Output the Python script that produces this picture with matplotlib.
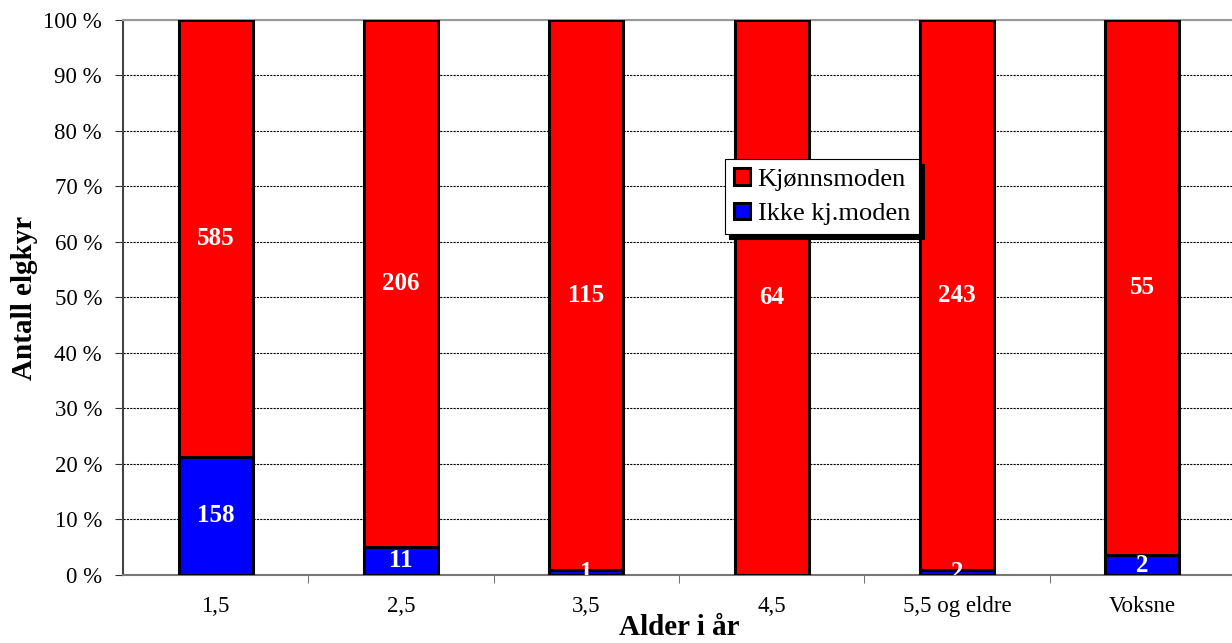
import matplotlib.pyplot as plt
import numpy as np

plt.rcParams['font.family'] = ['Liberation Serif', 'DejaVu Serif']

# Moose cows by age: sexually mature vs. not
ages = ['1,5', '2,5', '3,5', '4,5', '5,5 og eldre', 'Voksne']
kjonnsmoden = [585, 206, 115, 64, 243, 55]
ikke_moden = [158, 11, 1, 0, 2, 2]

mature = np.array(kjonnsmoden, dtype=float)
immature = np.array(ikke_moden, dtype=float)
total = mature + immature
pct_imm = immature / total * 100
pct_mat = mature / total * 100

fig = plt.figure(figsize=(12.32, 6.43), dpi=100)
ax = fig.add_axes([0.0998, 0.1058, 0.9027, 0.8631])

x = np.arange(len(ages))
w = 0.4
b1 = ax.bar(x, pct_imm, w, color='#0000ff', edgecolor='black', linewidth=2.2,
            label='Ikke kj.moden', zorder=3)
b2 = ax.bar(x, pct_mat, w, bottom=pct_imm, color='#ff0000', edgecolor='black',
            linewidth=2.2, label='Kjønnsmoden', zorder=3)

# value labels in the middle of each segment
for i in range(len(ages)):
    if immature[i] > 0:
        ax.text(x[i], pct_imm[i] / 2, f'{ikke_moden[i]}', ha='center', va='center',
                color='white', fontsize=18, fontweight='bold', zorder=4, clip_on=True)
    ax.text(x[i], pct_imm[i] + pct_mat[i] / 2, f'{kjonnsmoden[i]}', ha='center',
            va='center', color='white', fontsize=18, fontweight='bold', zorder=4)

ax.set_xlim(-0.5, 5.5)
ax.set_ylim(0, 100)
ax.set_yticks(np.arange(0, 101, 10))
ax.set_yticklabels([f'{v} %' for v in range(0, 101, 10)], fontsize=16.5)
ax.yaxis.grid(True, linestyle=(0, (2, 1)), color='black', linewidth=0.8, zorder=0)

ax.set_xticks(x)
ax.set_xticklabels(ages, fontsize=16.5)
ax.tick_params(axis='x', length=0, pad=15)
ax.set_xticks(np.arange(0.5, 5.5, 1), minor=True)
ax.tick_params(axis='x', which='minor', length=6, direction='out', color='#555555')
ax.tick_params(axis='y', length=6, direction='out', color='#333333', pad=9)

ax.spines['left'].set_color('#444444')
ax.spines['left'].set_linewidth(1.5)
ax.spines['bottom'].set_color('#777777')
ax.spines['bottom'].set_linewidth(1.5)
ax.spines['top'].set_color('#999999')
ax.spines['top'].set_linewidth(1.5)
ax.spines['right'].set_visible(False)

ax.set_xlabel('Alder i år', fontsize=21, fontweight='bold', labelpad=-2)
ax.set_ylabel('Antall elgkyr', fontsize=21, fontweight='bold', labelpad=4)

leg = ax.legend(handles=[b2, b1], loc='upper left', bbox_to_anchor=(0.541, 0.75),
                fontsize=19, frameon=True, fancybox=False, edgecolor='black',
                shadow={'color': 'black', 'alpha': 1, 'ox': 3.5, 'oy': -3.5},
                handlelength=0.6, handleheight=0.6, handletextpad=0.3,
                borderpad=0.35, labelspacing=0.45, borderaxespad=0)
leg.get_frame().set_linewidth(0.8)
leg.set_zorder(5)

fig.savefig('out.png', dpi=100)
